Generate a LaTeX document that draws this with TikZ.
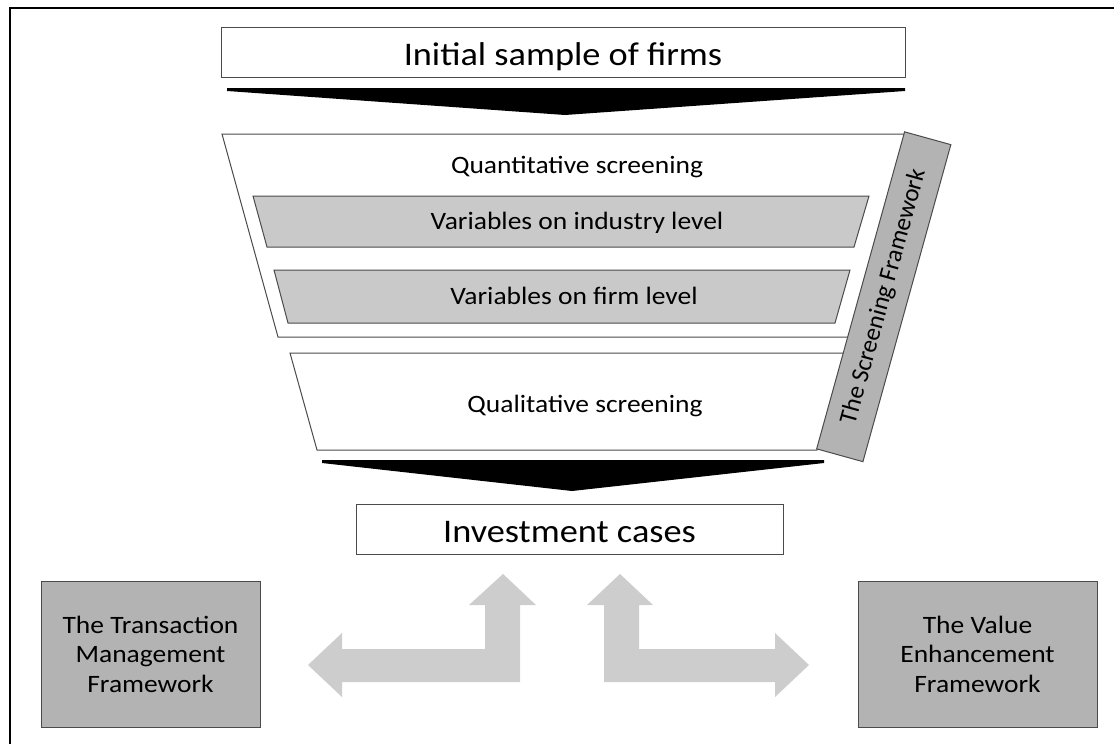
\documentclass[tikz,border=0pt]{standalone}
\usepackage{fontspec}
\setmainfont[FakeStretch=1.1]{Carlito}
\newfontfamily\bandfont{Carlito}
\definecolor{edgegray}{RGB}{75,75,75}
\definecolor{layergray}{RGB}{201,201,201}
\definecolor{boxgray}{RGB}{179,179,179}
\definecolor{arrowgray}{RGB}{205,205,205}
\tikzset{
  bigbox/.style={rectangle,draw=edgegray,line width=1pt,fill=white,inner sep=0pt,
    font=\fontsize{33}{40}\selectfont,text height=26pt,text depth=0pt},
  stage/.style={draw=edgegray,line width=1pt,fill=white},
  layer/.style={draw=edgegray,line width=1pt,fill=layergray},
  stagetext/.style={font=\fontsize{25}{30}\selectfont,text height=17.5pt,text depth=6pt,inner sep=0pt},
  fwbox/.style={rectangle,draw=edgegray,line width=1pt,fill=boxgray,align=center,
    font=\fontsize{25}{29.5}\selectfont},
  sideband/.style={rectangle,draw=edgegray,line width=1pt,fill=boxgray,
    font=\bandfont\fontsize{25}{30}\selectfont},
  funnelarrow/.style={fill=black},
  bentarrow/.style={fill=arrowgray}
}
\begin{document}
\begin{tikzpicture}[x=1pt,y=-1pt]
  \useasboundingbox (0,0) rectangle (1114,744);
  \draw [line width=1.5pt] (10,744) -- (10,8) -- (1114,8);

  \node at (563,52) [bigbox,minimum width=684,minimum height=50] (init) {Initial sample of firms};
  \fill [funnelarrow] (227,88) -- (905,88) -- (905,91) -- (565,115) -- (227,91) -- cycle;

  \draw [stage] (222,134) -- (905,134) -- (849,337) -- (278,337) -- cycle;
  \node at (577,167.5) [stagetext] (quant) {Quantitative screening};
  \draw [layer] (253,196) -- (869,196) -- (854,247) -- (267,247) -- cycle;
  \node at (577,224) [stagetext] (industry) {Variables on industry level};
  \draw [layer] (274,270) -- (850,270) -- (835,323) -- (288,323) -- cycle;
  \node at (574,299) [stagetext] (firm) {Variables on firm level};
  \draw [stage] (290,353) -- (844,353) -- (817,450) -- (317,450) -- cycle;
  \node at (585,407) [stagetext] (qual) {Qualitative screening};

  \node at (883.75,296.75) [sideband,rotate=74.5,minimum width=329,minimum height=48] (screen) {The Screening Framework};

  \fill [funnelarrow] (322,460) -- (824,460) -- (824,463) -- (572,491) -- (322,463) -- cycle;
  \node at (569.5,529) [bigbox,minimum width=427,minimum height=50] (cases) {Investment cases};

  \node at (150.5,654) [fwbox,minimum width=219,minimum height=146] (tmf) {The Transaction\\Management\\Framework};
  \node at (977.5,654) [fwbox,minimum width=239,minimum height=146] (vef) {The Value\\Enhancement\\Framework};

  \fill [bentarrow] (503,574) -- (536,605) -- (520,605) -- (520,682) -- (342,682) -- (342,697) -- (308,665)
    -- (342,633) -- (342,649) -- (485,649) -- (485,605) -- (469,605) -- cycle;
  \fill [bentarrow] (620,574) -- (653,605) -- (639,605) -- (639,649) -- (775,649) -- (775,633) -- (809,665)
    -- (775,697) -- (775,682) -- (604,682) -- (604,605) -- (587,605) -- cycle;
\end{tikzpicture}
\end{document}
